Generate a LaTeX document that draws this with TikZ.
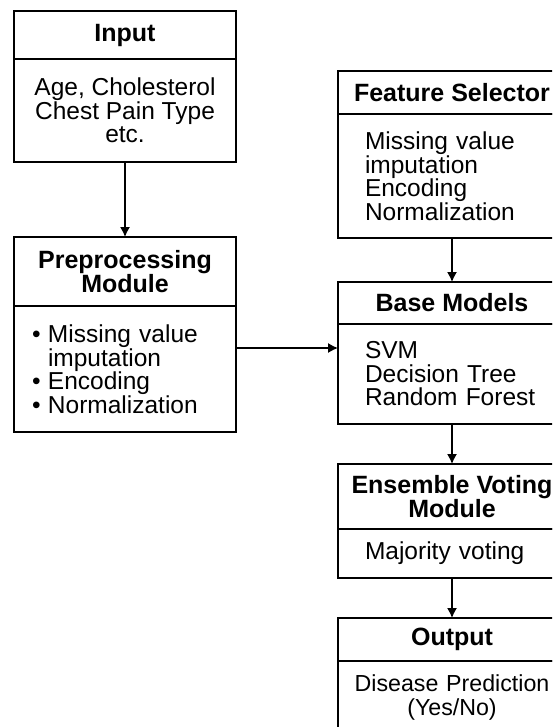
\documentclass[tikz,border=0pt]{standalone}
\usepackage{fontspec}
\setmainfont{Liberation Sans}
\usetikzlibrary{arrows.meta}

\begin{document}
\begin{tikzpicture}[x=1pt,y=1pt,
   head/.style={draw,line width=1.3pt,outer sep=0pt,anchor=north,align=center,
     font=\bfseries\fontsize{25}{24}\selectfont},
   body/.style={draw,line width=1.3pt,outer sep=0pt,anchor=north,
     font=\fontsize{24.5}{23.5}\selectfont},
   arr/.style={line width=1.3pt,-{Latex[length=10pt,width=10pt]}}]
   \useasboundingbox (0,0) rectangle (552,-727);
   \clip (0,0) rectangle (552,-727);
   % Left
   \node[head,minimum width=222pt,minimum height=48pt] (inp) at (125,-11) {Input};
   \node[body,minimum width=222pt,minimum height=103pt,align=center] (inpbody) at (inp.south)
     {Age, Cholesterol\\Chest Pain Type\\etc.};
   \node[head,minimum width=222pt,minimum height=69pt] (pre) at (125,-237) {Preprocessing\\Module};
   \node[body,minimum width=222pt,minimum height=126pt,text width=186pt,inner xsep=18pt,align=left] (prebody) at (pre.south)
     {\makebox[16pt][l]{\textbullet}Missing value\\\hspace*{16pt}imputation\\
      \makebox[16pt][l]{\textbullet}Encoding\\\makebox[16pt][l]{\textbullet}Normalization};
   % Right
   \node[head,minimum width=228pt,minimum height=43pt] (fsel) at (452,-71) {Feature Selector};
   \node[body,minimum width=228pt,minimum height=124pt,text width=174pt,inner xsep=27pt,align=left] (fselbody) at (fsel.south)
     {Missing value\\imputation\\Encoding\\Normalization};
   \node[head,minimum width=228pt,minimum height=42pt] (base) at (452,-282) {Base Models};
   \node[body,minimum width=228pt,minimum height=100pt,text width=174pt,inner xsep=27pt,align=left] (basebody) at (base.south)
     {SVM\\Decision Tree\\Random Forest};
   \node[head,minimum width=228pt,minimum height=65pt] (ens) at (452,-464) {Ensemble Voting\\Module};
   \node[body,minimum width=228pt,minimum height=49pt,text width=174pt,inner xsep=27pt,align=left] (ensbody) at (ens.south)
     {Majority voting};
   \node[head,minimum width=228pt,minimum height=43pt] (out) at (452,-618) {Output};
   \node[body,minimum width=228pt,minimum height=73pt,text width=210pt,inner xsep=9pt,align=center,
     font=\fontsize{23.2}{23.5}\selectfont] (outbody) at (out.south)
     {Disease Prediction\\(Yes/No)};
   % Arrows
   \draw[arr] (inpbody.south) -- (pre.north);
   \coordinate (prearr) at ([yshift=21pt]prebody.east);
   \draw[arr] (prearr) -- (prearr -| basebody.west);
   \draw[arr] (fselbody.south) -- (base.north);
   \draw[arr] (basebody.south) -- (ens.north);
   \draw[arr] (ensbody.south) -- (out.north);
\end{tikzpicture}
\end{document}
